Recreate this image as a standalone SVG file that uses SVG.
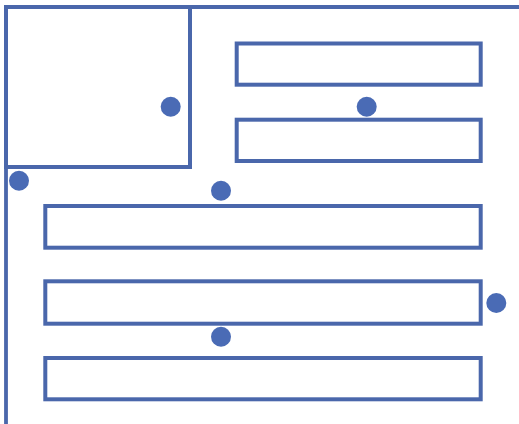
<svg xmlns="http://www.w3.org/2000/svg" width="519" height="424" viewBox="0 0 519 424">
<style>
.box{fill:none;stroke:#4a67ab;stroke-width:4}
.line{fill:none;stroke:#4a67ab;stroke-width:3.8}
.dot{fill:#4a6bb5}
</style>
<rect width="519" height="424" fill="#fff"/>
<g id="connectors">
<path class="line" d="M6,424 V7 H519"/>
</g>
<g id="node-square"><rect class="box" x="6" y="7" width="184" height="160"/></g>
<g id="node-r1"><rect class="box" x="236.7" y="43.5" width="244" height="41.2"/></g>
<g id="node-r2"><rect class="box" x="236.7" y="119.7" width="244" height="41.3"/></g>
<g id="node-r3"><rect class="box" x="45.3" y="206" width="435.4" height="41.7"/></g>
<g id="node-r4"><rect class="box" x="45.3" y="281.3" width="435.4" height="42.4"/></g>
<g id="node-r5"><rect class="box" x="45.3" y="358" width="435.4" height="41.3"/></g>
<g id="dots">
<circle class="dot" cx="170.7" cy="106.7" r="10"/>
<circle class="dot" cx="366.7" cy="106.7" r="10"/>
<circle class="dot" cx="19" cy="180.7" r="10"/>
<circle class="dot" cx="221" cy="190.7" r="10"/>
<circle class="dot" cx="496.3" cy="303" r="10"/>
<circle class="dot" cx="221" cy="336.7" r="10"/>
</g>
</svg>
